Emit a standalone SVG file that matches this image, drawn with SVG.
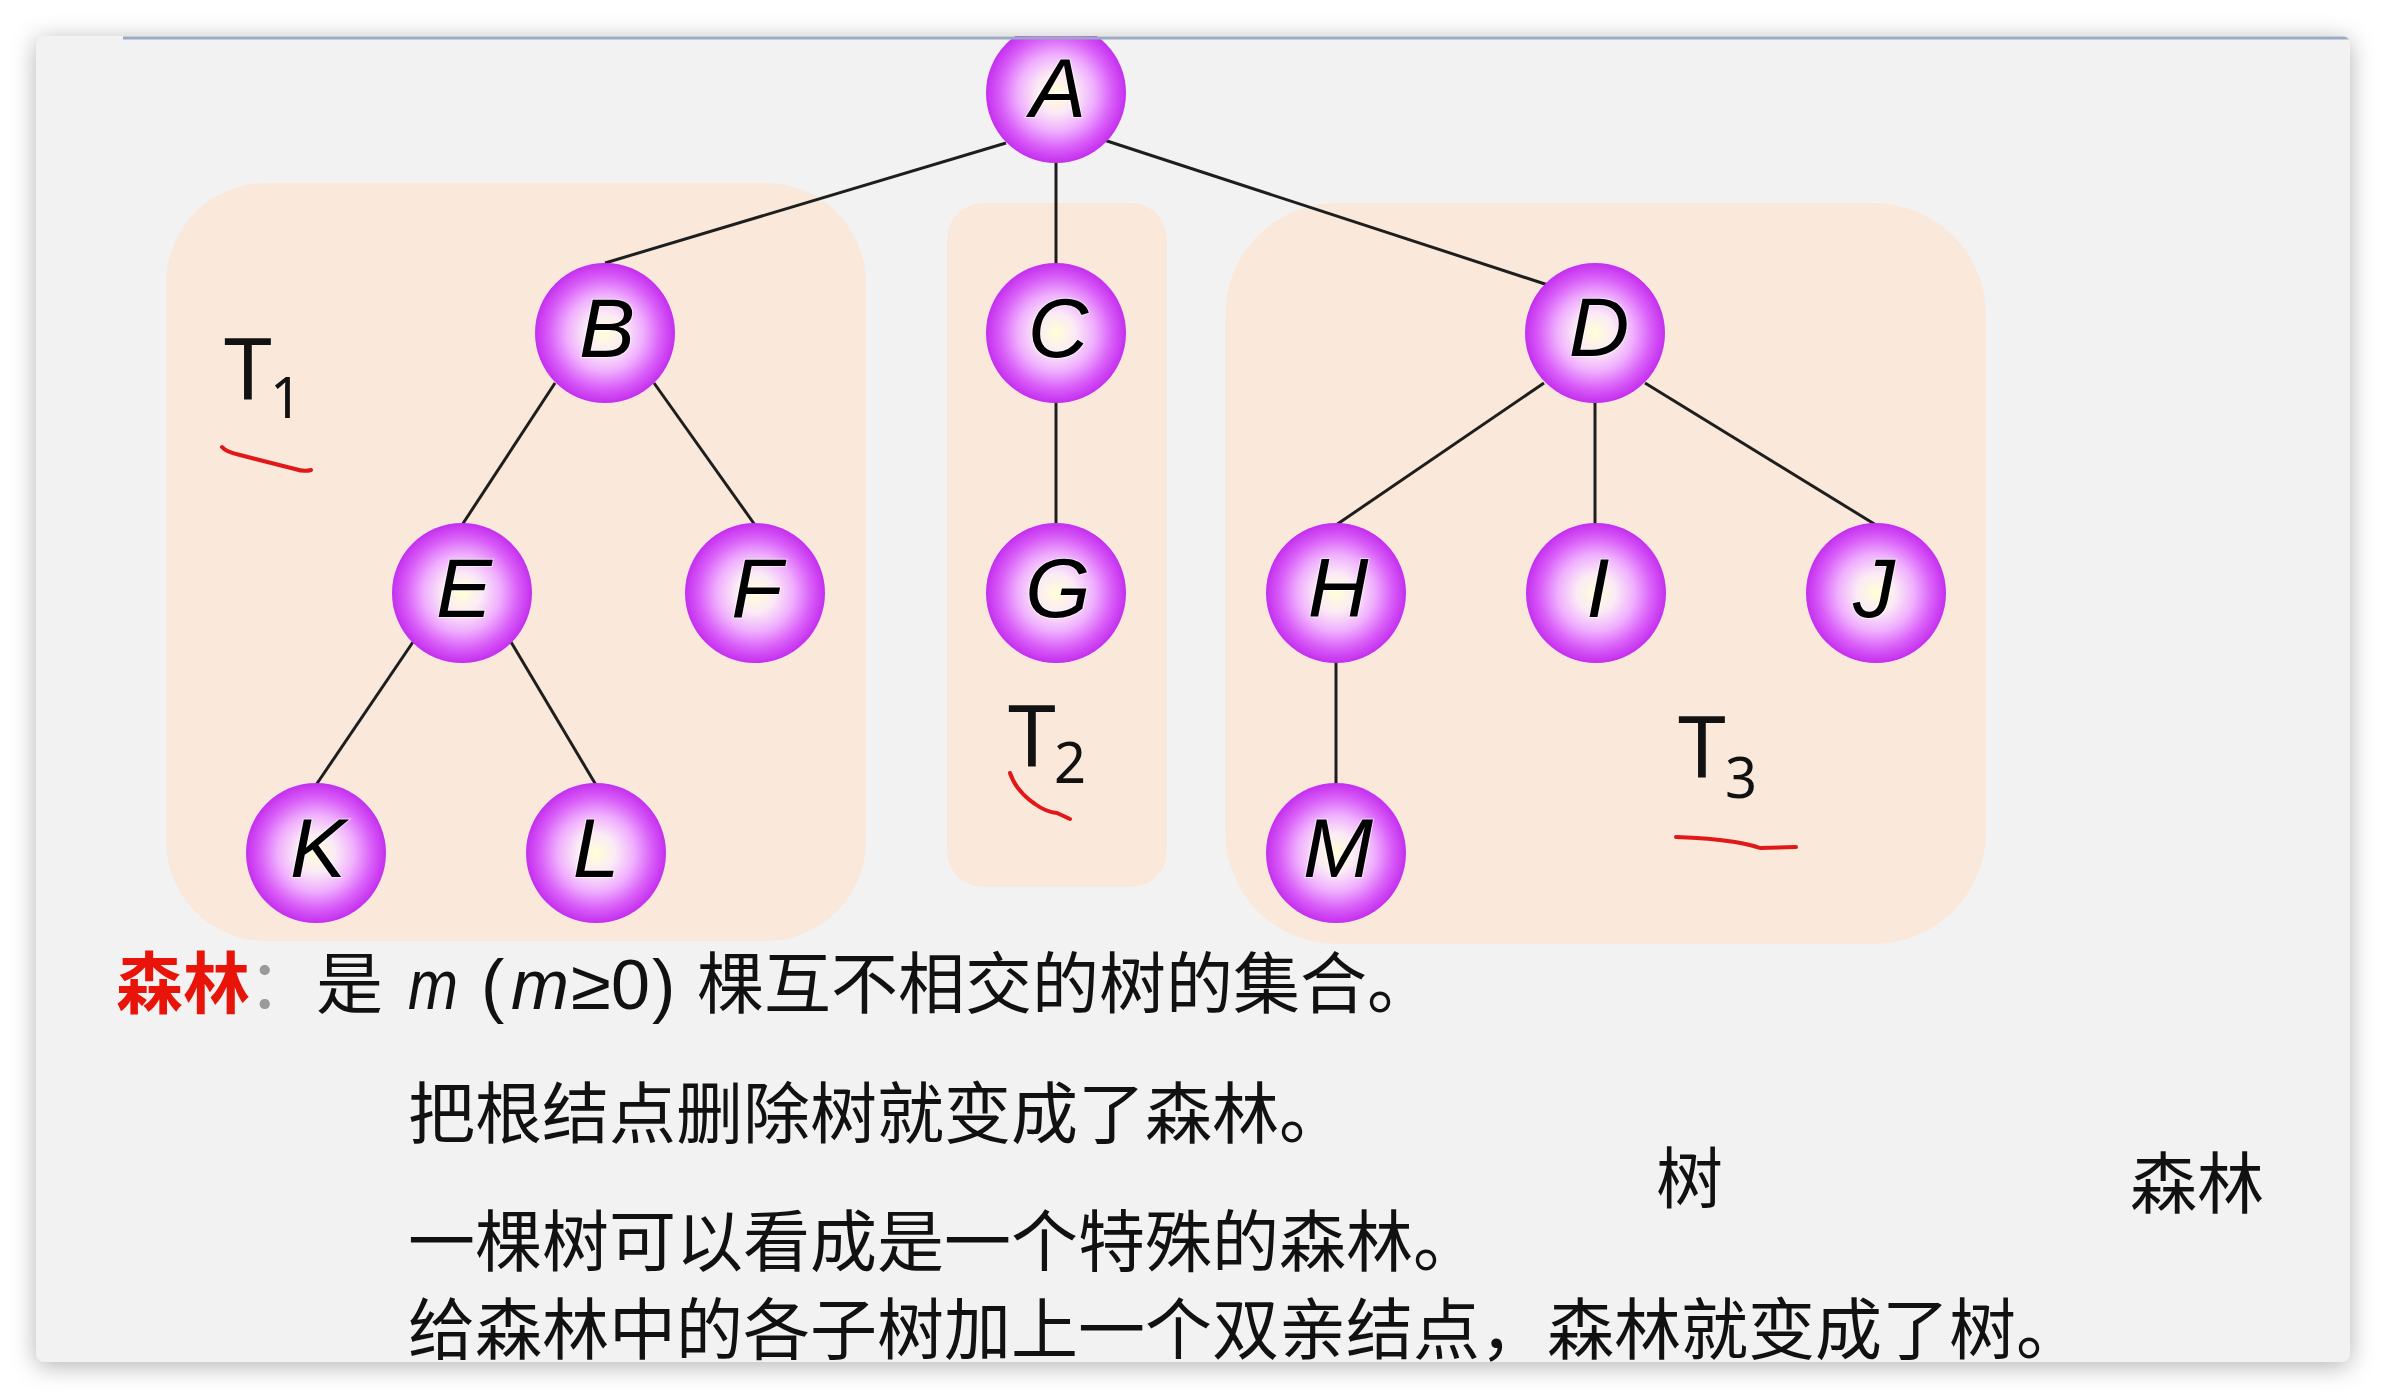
<svg xmlns="http://www.w3.org/2000/svg" width="2386" height="1398" viewBox="0 0 2386 1398">
<style>
.box{fill:#fae9db}
.edge{stroke:#1e1e1e;stroke-width:3;fill:none}
.node{fill:url(#ng)}
.lbl{font-family:"Liberation Sans",Arial,sans-serif;font-style:italic;font-size:84px;fill:#000;text-anchor:middle;stroke:#fff;stroke-opacity:0.55;stroke-width:2;paint-order:stroke}
.tl{font-family:"Noto Sans","Liberation Sans",sans-serif;fill:#111}
.zh{font-family:"Noto Sans CJK SC","Noto Sans",sans-serif;font-size:67px;fill:#111}
.lt{font-family:"Liberation Sans",Arial,sans-serif;font-size:70px;fill:#111}
.it{font-style:italic}
.mark{stroke:#e01818;stroke-width:4;fill:none;stroke-linecap:round;stroke-linejoin:round}
</style>
<defs>
<radialGradient id="ng" cx="0.5" cy="0.5" r="0.5">
<stop offset="0" stop-color="#ffffd6"/>
<stop offset="0.28" stop-color="#fbeaf6"/>
<stop offset="0.55" stop-color="#efaefe"/>
<stop offset="0.8" stop-color="#d95ef8"/>
<stop offset="1" stop-color="#c42fee"/>
</radialGradient>
<filter id="sh" x="-5%" y="-5%" width="110%" height="110%">
<feGaussianBlur stdDeviation="12"/>
</filter>
<clipPath id="card"><rect x="36" y="36" width="2314" height="1326" rx="8"/></clipPath>
</defs>
<rect x="0" y="0" width="2386" height="1398" fill="#ffffff"/>
<rect x="36" y="40" width="2314" height="1326" rx="8" fill="#000" fill-opacity="0.3" filter="url(#sh)"/>
<rect x="36" y="36" width="2314" height="1326" rx="8" fill="#f2f2f2"/>
<g clip-path="url(#card)">
<g id="boxes">
<rect id="box-T1" class="box" x="166" y="183" width="700" height="758" rx="100"/>
<rect id="box-T2" class="box" x="947" y="203" width="220" height="684" rx="36"/>
<rect id="box-T3" class="box" x="1225" y="203" width="761" height="741" rx="112"/>
</g>
<g id="connectors">
<line class="edge" x1="1006" y1="143" x2="605" y2="263"/>
<line class="edge" x1="1056" y1="160" x2="1056" y2="266"/>
<line class="edge" x1="1104" y1="140" x2="1548" y2="285"/>
<line class="edge" x1="555" y1="383" x2="462" y2="525"/>
<line class="edge" x1="654" y1="383" x2="755" y2="525"/>
<line class="edge" x1="1056" y1="400" x2="1056" y2="526"/>
<line class="edge" x1="413" y1="642" x2="316" y2="785"/>
<line class="edge" x1="511" y1="642" x2="596" y2="785"/>
<line class="edge" x1="1544" y1="383" x2="1336" y2="525"/>
<line class="edge" x1="1595" y1="400" x2="1595" y2="526"/>
<line class="edge" x1="1645" y1="383" x2="1876" y2="525"/>
<line class="edge" x1="1336" y1="660" x2="1336" y2="786"/>
</g>
<g id="node-A"><circle class="node" cx="1056" cy="93" r="70"/><text class="lbl" x="1058" y="117">A</text></g>
<g id="node-B"><circle class="node" cx="605" cy="333" r="70"/><text class="lbl" x="607" y="357">B</text></g>
<g id="node-C"><circle class="node" cx="1056" cy="333" r="70"/><text class="lbl" x="1058" y="357">C</text></g>
<g id="node-D"><circle class="node" cx="1595" cy="333" r="70"/><text class="lbl" x="1599" y="356">D</text></g>
<g id="node-E"><circle class="node" cx="462" cy="593" r="70"/><text class="lbl" x="464" y="617">E</text></g>
<g id="node-F"><circle class="node" cx="755" cy="593" r="70"/><text class="lbl" x="757" y="617">F</text></g>
<g id="node-G"><circle class="node" cx="1056" cy="593" r="70"/><text class="lbl" x="1058" y="617">G</text></g>
<g id="node-H"><circle class="node" cx="1336" cy="593" r="70"/><text class="lbl" x="1338" y="617">H</text></g>
<g id="node-I"><circle class="node" cx="1596" cy="593" r="70"/><text class="lbl" x="1598" y="617">I</text></g>
<g id="node-J"><circle class="node" cx="1876" cy="593" r="70"/><text class="lbl" x="1874" y="617">J</text></g>
<g id="node-K"><circle class="node" cx="316" cy="853" r="70"/><text class="lbl" x="318" y="877">K</text></g>
<g id="node-L"><circle class="node" cx="596" cy="853" r="70"/><text class="lbl" x="596" y="877">L</text></g>
<g id="node-M"><circle class="node" cx="1336" cy="853" r="70"/><text class="lbl" x="1338" y="877">M</text></g>
<g id="labels">
<text class="tl" x="224" y="400" font-size="86">T</text><text class="tl" x="270" y="418" font-size="56">1</text>
<text class="tl" x="1008" y="767" font-size="86">T</text><text class="tl" x="1054" y="783" font-size="56">2</text>
<text class="tl" x="1678" y="778" font-size="86">T</text><text class="tl" x="1725" y="798" font-size="56">3</text>
</g>
<g id="marks">
<path class="mark" d="M222,447 Q226,452 240,455 L295,469 Q304,472 311,470"/>
<path class="mark" d="M1010,773 Q1016,791 1035,804 Q1046,812 1057,813 L1070,819"/>
<path class="mark" d="M1676,837 Q1710,838 1735,842 Q1752,845 1760,848 L1796,847"/>
</g>
<g id="text">
<text class="zh" x="116" y="1008" style="fill:#e8140a;font-weight:bold">森林</text>
<text class="zh" x="248" y="1008" style="fill:#9a9a9a">：</text>
<text class="zh" x="316" y="1008">是</text>
<text class="lt it" x="408" y="1009" textLength="50" lengthAdjust="spacingAndGlyphs">m</text>
<text class="lt" x="481" y="1009">(</text>
<text class="lt it" x="511" y="1009" textLength="58" lengthAdjust="spacingAndGlyphs">m</text>
<text class="lt" x="571" y="1009" textLength="40" lengthAdjust="spacingAndGlyphs">≥</text>
<text class="lt" x="611" y="1009" textLength="39" lengthAdjust="spacingAndGlyphs">0</text>
<text class="lt" x="652" y="1009">)</text>
<text class="zh" x="697" y="1008">棵互不相交的树的集合。</text>
<text class="zh" x="408" y="1138">把根结点删除树就变成了森林。</text>
<text class="zh" x="408" y="1266">一棵树可以看成是一个特殊的森林。</text>
<text class="zh" x="408" y="1354">给森林中的各子树加上一个双亲结点，森林就变成了树。</text>
<text class="zh" x="1656" y="1203">树</text>
<text class="zh" x="2130" y="1208">森林</text>
</g>
<line x1="123" y1="38" x2="2350" y2="38" stroke="#9aaac2" stroke-width="3"/>
</g>
</svg>
